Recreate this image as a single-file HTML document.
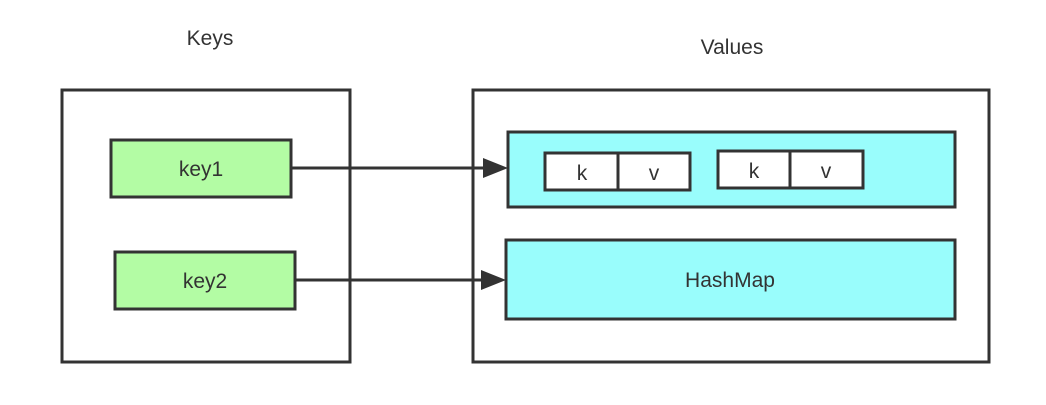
<!DOCTYPE html>
<html><head><meta charset="utf-8"><style>
html,body{margin:0;padding:0;background:#fff;}
</style></head><body>
<svg width="1046" height="400" xmlns="http://www.w3.org/2000/svg" font-family="Liberation Sans, sans-serif" fill="none">
<rect width="1046" height="400" fill="#fff"/>
<g stroke="#333" stroke-width="3">
<rect x="62" y="90" width="288" height="272"/>
<rect x="473" y="90" width="516" height="272"/>
<rect x="111" y="140" width="180" height="57" fill="#b3fca4"/>
<rect x="115" y="252" width="180" height="57" fill="#b3fca4"/>
<rect x="508" y="132" width="447" height="75" fill="#99fdfc"/>
<rect x="506" y="240" width="449" height="79" fill="#99fdfc"/>
<rect x="545" y="153" width="145" height="37" fill="#fff"/>
<line x1="618" y1="153" x2="618" y2="190"/>
<rect x="718" y="151" width="145" height="37" fill="#fff"/>
<line x1="790" y1="151" x2="790" y2="188"/>
<line x1="291" y1="168" x2="486" y2="168"/>
<line x1="295" y1="280" x2="484" y2="280"/>
</g>
<polygon points="483,158 508,168 483,178" fill="#333"/>
<polygon points="481,270 506,280 481,290" fill="#333"/>
<g fill="#333" font-size="21" text-anchor="middle">
<text x="210" y="45">Keys</text>
<text x="732" y="54">Values</text>
<text x="201" y="176">key1</text>
<text x="205" y="288">key2</text>
<text x="582" y="180">k</text>
<text x="654" y="180">v</text>
<text x="754" y="178">k</text>
<text x="826" y="178">v</text>
<text x="730" y="287">HashMap</text>
</g>
</svg>
</body></html>
